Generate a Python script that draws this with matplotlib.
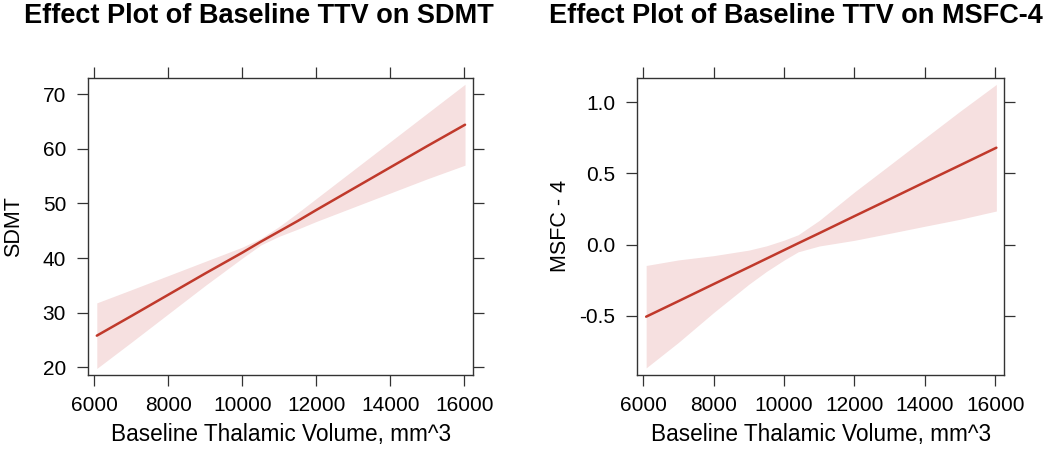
import numpy as np
import matplotlib
matplotlib.use("Agg")
import matplotlib.pyplot as plt

plt.rcParams['font.family'] = ['Liberation Sans', 'DejaVu Sans']

# SDMT effect
ttv_sdmt = [6065, 7000, 8000, 9000, 9500, 10000, 10500, 11000, 11500, 12000, 13000, 14000, 15000, 16020]
fit_sdmt = [25.8, 29.4, 33.3, 37.2, 39.1, 41.0, 43.0, 44.9, 46.8, 48.8, 52.7, 56.6, 60.5, 64.4]
upper_sdmt = [31.8, 34.2, 36.8, 39.4, 40.7, 42.0, 43.6, 45.8, 48.3, 50.9, 56.1, 61.3, 66.5, 71.8]
lower_sdmt = [19.8, 24.6, 29.8, 35.0, 37.5, 40.0, 42.4, 44.0, 45.3, 46.7, 49.3, 51.9, 54.5, 57.0]

# MSFC-4 effect
ttv_msfc = [6085, 7000, 8000, 9000, 9500, 10000, 10400, 11000, 11500, 12000, 13000, 14000, 15000, 16028]
fit_msfc = [-0.507, -0.398, -0.278, -0.159, -0.099, -0.039, 0.009, 0.080, 0.140, 0.200, 0.319, 0.439, 0.558, 0.681]
upper_msfc = [-0.147, -0.108, -0.078, -0.039, -0.009, 0.031, 0.069, 0.170, 0.270, 0.370, 0.559, 0.749, 0.938, 1.126]
lower_msfc = [-0.867, -0.688, -0.478, -0.279, -0.189, -0.109, -0.051, -0.010, 0.010, 0.030, 0.079, 0.129, 0.178, 0.236]

xticks = [6000, 8000, 10000, 12000, 14000, 16000]
sdmt_ticks = [20, 30, 40, 50, 60, 70]
msfc_ticks = [-0.5, 0.0, 0.5, 1.0]

line_col = '#c0392b'
band_col = '#f6e0e0'

fig = plt.figure(figsize=(10.5, 4.58), dpi=100)
ax1 = fig.add_axes([0.0841, 0.1812, 0.3667, 0.6491])
ax2 = fig.add_axes([0.6070, 0.1812, 0.3492, 0.6491])


def effect_panel(ax, x, fit, lo, hi, yticks, ylim, ylabel, fmt, ylab_x):
    ax.fill_between(x, lo, hi, color=band_col, lw=0)
    ax.plot(x, fit, color=line_col, lw=1.8, solid_capstyle='round')
    ax.set_xlim(5835, 16245)
    ax.set_ylim(*ylim)
    ax.set_xticks(xticks)
    ax.set_yticks(yticks)
    ax.set_yticklabels([fmt.format(v) for v in yticks])
    ax.tick_params(direction='out', length=8, width=0.9, color='#333333',
                   labelsize=15, top=True, right=True)
    ax.tick_params(axis='x', pad=7)
    ax.tick_params(axis='y', pad=8)
    for s in ax.spines.values():
        s.set_color('#333333')
        s.set_linewidth(1.0)
    ax.set_xlabel('Baseline Thalamic Volume, mm^3', fontsize=16.3)
    ax.set_ylabel(ylabel, fontsize=15.5)
    ax.xaxis.set_label_coords(0.5, -0.163)
    ax.yaxis.set_label_coords(ylab_x, 0.5)


effect_panel(ax1, ttv_sdmt, fit_sdmt, lower_sdmt, upper_sdmt, sdmt_ticks,
             (18.6, 73.0), 'SDMT', '{:g}', -0.166)
effect_panel(ax2, ttv_msfc, fit_msfc, lower_msfc, upper_msfc, msfc_ticks,
             (-0.917, 1.173), 'MSFC - 4', '{:.1f}', -0.181)

fig.text(259 / 1050, 1 - 23 / 458, 'Effect Plot of Baseline TTV on SDMT',
         ha='center', va='baseline', fontsize=19.5, fontweight='bold')
fig.text(796 / 1050, 1 - 23 / 458, 'Effect Plot of Baseline TTV on MSFC-4',
         ha='center', va='baseline', fontsize=19.5, fontweight='bold')

fig.savefig('out.png', dpi=100)
